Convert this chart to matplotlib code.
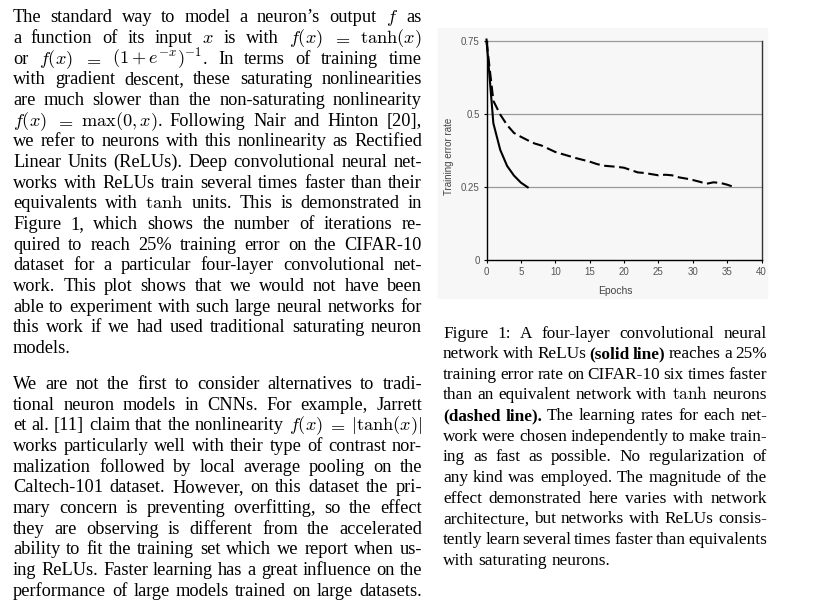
import re
import matplotlib
matplotlib.use('Agg')
import matplotlib.pyplot as plt
from matplotlib.patches import Rectangle

W, H = 819, 612

# training curves (epoch, training error rate)
relu_epochs = [0, 1, 2, 3, 4, 5, 6]
relu_err = [0.755, 0.468, 0.377, 0.322, 0.289, 0.265, 0.249]

tanh_epochs = list(range(0, 37))
tanh_err = [0.75, 0.545, 0.498, 0.462, 0.435, 0.422, 0.41, 0.399, 0.392, 0.381,
            0.37, 0.363, 0.356, 0.349, 0.343, 0.337, 0.329, 0.323, 0.321, 0.319,
            0.316, 0.308, 0.30, 0.298, 0.294, 0.29, 0.292, 0.29, 0.283, 0.279,
            0.274, 0.268, 0.261, 0.266, 0.264, 0.258, 0.25]

yticks = [0, 0.25, 0.5, 0.75]
ytick_labels = ['0', '0.25', '0.5', '0.75']
xticks = [0, 5, 10, 15, 20, 25, 30, 35, 40]

# page text, one entry per printed line ('@' marks a bold word, $..$ is math)
para1 = [
    "The standard way to model a neuron\u2019s output $f$ as",
    "a function of its input $x$ is with $f(x)$ $=$ $\\tanh(x)$",
    "or $f(x)$ $=$ $(1+e^{-x})^{-1}$. In terms of training time",
    "with gradient descent, these saturating nonlinearities",
    "are much slower than the non-saturating nonlinearity",
    "$f(x)$ $=$ $\\max(0,x)$. Following Nair and Hinton [20],",
    "we refer to neurons with this nonlinearity as Rectified",
    "Linear Units (ReLUs). Deep convolutional neural net-",
    "works with ReLUs train several times faster than their",
    "equivalents with $\\tanh$ units. This is demonstrated in",
    "Figure 1, which shows the number of iterations re-",
    "quired to reach 25% training error on the CIFAR-10",
    "dataset for a particular four-layer convolutional net-",
    "work. This plot shows that we would not have been",
    "able to experiment with such large neural networks for",
    "this work if we had used traditional saturating neuron",
    "models.",
]
para2 = [
    "We are not the first to consider alternatives to tradi-",
    "tional neuron models in CNNs. For example, Jarrett",
    "et al. [11] claim that the nonlinearity $f(x)$ $=$ $|\\tanh(x)|$",
    "works particularly well with their type of contrast nor-",
    "malization followed by local average pooling on the",
    "Caltech-101 dataset. However, on this dataset the pri-",
    "mary concern is preventing overfitting, so the effect",
    "they are observing is different from the accelerated",
    "ability to fit the training set which we report when us-",
    "ing ReLUs. Faster learning has a great influence on the",
    "performance of large models trained on large datasets.",
]
caption = [
    "Figure 1:  A four-layer convolutional neural",
    "network with ReLUs @(solid @line) reaches a 25%",
    "training error rate on CIFAR-10 six times faster",
    "than an equivalent network with $\\tanh$ neurons",
    "@(dashed @line). The learning rates for each net-",
    "work were chosen independently to make train-",
    "ing as fast as possible.  No regularization of",
    "any kind was employed. The magnitude of the",
    "effect demonstrated here varies with network",
    "architecture, but networks with ReLUs consis-",
    "tently learn several times faster than equivalents",
    "with saturating neurons.",
]

plt.rcParams['mathtext.fontset'] = 'cm'
fig = plt.figure(figsize=(W / 100, H / 100), dpi=100)
renderer = fig.canvas.get_renderer()


def put_line(line, x0, x1, ybase, justify, fs):
    words = [w for w in line.split(' ') if w]
    items = []
    for w in words:
        bold = w.startswith('@')
        if bold:
            w = w[1:]
        segs = [s for s in re.split(r'(\$[^$]*\$)', w) if s]
        objs = []
        for s in segs:
            t = fig.text(0, 1 - ybase / H, s, fontsize=fs, family='Liberation Serif',
                         weight='bold' if bold else 'normal', va='baseline', ha='left')
            objs.append((t, t.get_window_extent(renderer).width))
        items.append(objs)
    widths = [sum(wd for _, wd in objs) for objs in items]
    if justify and len(items) > 1:
        gap = (x1 - x0 - sum(widths)) / (len(items) - 1)
    else:
        gap = 0.25 * fs * 100 / 72
    x = x0
    for objs, wsum in zip(items, widths):
        xx = x
        for t, wd in objs:
            t.set_x(xx / W)
            xx += wd
        x += wsum + gap


def put_block(lines, x0, x1, y0, step, fs, last_justified=False):
    for i, line in enumerate(lines):
        last = (i == len(lines) - 1) and not last_justified
        put_line(line, x0, x1, y0 + i * step, not last, fs)


LS = 20.65
put_block(para1, 13, 422, 22.5, LS, 13.2)
put_block(para2, 13, 422, 389, LS, 13.2, last_justified=True)
put_block(caption, 443, 767, 337.5, LS, 12.4)

# light backdrop of the embedded chart image
fig.patches.append(Rectangle((438 / W, 1 - 298 / H), (767 - 438) / W, (298 - 28) / H,
                             transform=fig.transFigure, color='#f7f7f7', zorder=-5))

ax = fig.add_axes([486.5 / W, 1 - 260 / H, 275 / W, 219 / H])
ax.set_facecolor('#f7f7f7')
ax.plot(relu_epochs, relu_err, color='black', lw=1.5, clip_on=False, zorder=3)
ax.plot(tanh_epochs, tanh_err, color='black', lw=1.5, dashes=(5, 2.2), clip_on=False, zorder=3)
ax.set_xlim(0, 40)
ax.set_ylim(0, 0.75)
ax.set_yticks(yticks)
ax.set_yticklabels(ytick_labels)
ax.set_xticks(xticks)
for yv in yticks[1:]:
    ax.axhline(yv, color='#9a9a9a', lw=0.9, zorder=1, clip_on=False)
ax.spines['top'].set_visible(False)
for s in ['left', 'bottom']:
    ax.spines[s].set_color('black')
    ax.spines[s].set_linewidth(1.0)
ax.spines['right'].set_color('#333333')
ax.spines['right'].set_linewidth(1.0)
ax.tick_params(length=2.5, width=0.8, color='black', pad=2.5, labelsize=7,
               labelcolor='#555555')
for lab in ax.get_xticklabels() + ax.get_yticklabels():
    lab.set_family('Liberation Sans')

fig.text(449 / W, 1 - 156 / H, 'Training error rate', rotation=90, ha='center', va='center',
         fontsize=7, color='#444444', family='Liberation Sans')
fig.text(615 / W, 1 - 291 / H, 'Epochs', ha='center', va='center',
         fontsize=7.5, color='#444444', family='Liberation Sans')

fig.savefig('out.png', dpi=100)
